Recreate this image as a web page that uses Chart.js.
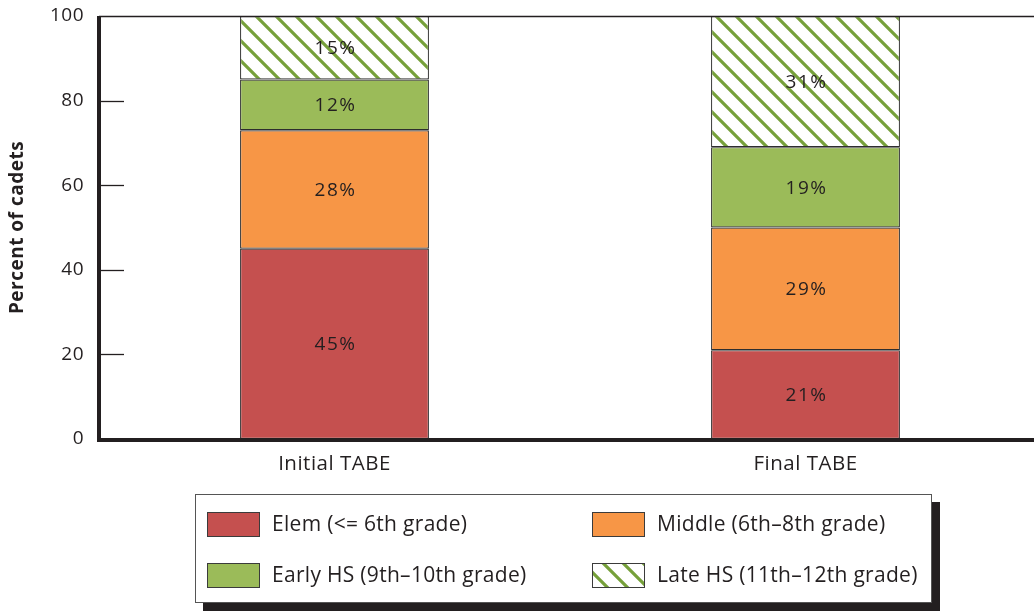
<!DOCTYPE html>
<html>
<head>
<meta charset="utf-8">
<script src="https://cdn.jsdelivr.net/npm/chart.js@4/dist/chart.umd.min.js"></script>
<style>
  html, body { margin: 0; padding: 0; background: #fff; overflow: hidden; }
  #wrap { width: 1041px; height: 611px; position: relative; }
</style>
</head>
<body>
<div id="wrap"><canvas id="c"></canvas></div>
<script>
// Categories and series (percent of cadets in each reading level)
const categories = ['Initial TABE', 'Final TABE'];
const seriesNames = ['Elem (<= 6th grade)', 'Middle (6th\u20138th grade)', 'Early HS (9th\u201310th grade)', 'Late HS (11th\u201312th grade)'];
const elemValues = [45, 21];
const middleValues = [28, 29];
const earlyHsValues = [12, 19];
const lateHsValues = [15, 31];
const yTicks = [0, 20, 40, 60, 80, 100];
const yTitle = 'Percent of cadets';

const INK = '#231f20';
const FONT = "'Open Sans', 'Noto Sans', sans-serif";

// Diagonal green hatch used for the Late HS segments
function makeHatch() {
  const s = 20;
  const c = document.createElement('canvas');
  c.width = s; c.height = s;
  const g = c.getContext('2d');
  g.fillStyle = '#ffffff';
  g.fillRect(0, 0, s, s);
  g.strokeStyle = '#76a03a';
  g.lineWidth = 3.2;
  g.lineCap = 'square';
  for (let k = -1; k <= 1; k++) {
    g.beginPath();
    g.moveTo(k * s - 2, -2);
    g.lineTo(k * s + s + 2, s + 2);
    g.stroke();
  }
  return g.createPattern(c, 'repeat');
}
const hatch = makeHatch();

const fills = ['#c5504f', '#f79646', '#9bbb59', hatch];
const seriesData = [elemValues, middleValues, earlyHsValues, lateHsValues];

const datasets = seriesData.map((vals, i) => ({
  label: seriesNames[i],
  data: vals,
  backgroundColor: fills[i],
  borderColor: '#2e2e2e',
  borderWidth: 1.2,
  borderSkipped: false,
  barPercentage: 0.401,
  categoryPercentage: 1.0
}));

// Slightly open letter spacing for all chart text
const spacing = {
  id: 'spacing',
  beforeLayout(chart) { chart.ctx.letterSpacing = '0.5px'; },
  beforeDraw(chart) { chart.ctx.letterSpacing = '0.5px'; }
};

// Value labels centred in each segment
const valueLabels = {
  id: 'valueLabels',
  afterDatasetsDraw(chart) {
    const ctx = chart.ctx;
    ctx.save();
    ctx.font = '19px ' + FONT;
    ctx.letterSpacing = '1.5px';
    ctx.fillStyle = INK;
    ctx.textAlign = 'center';
    ctx.textBaseline = 'middle';
    chart.data.datasets.forEach((ds, di) => {
      const meta = chart.getDatasetMeta(di);
      meta.data.forEach((el, i) => {
        const y = (el.y + el.base) / 2;
        ctx.fillText(ds.data[i] + '%', el.x + 1, y + 1);
      });
    });
    ctx.restore();
  }
};

// Axis lines, inner tick marks and the top rule
const axesFrame = {
  id: 'axesFrame',
  afterDatasetsDraw(chart) {
    const ctx = chart.ctx;
    const a = chart.chartArea;
    const ys = chart.scales.y;
    ctx.save();
    ctx.strokeStyle = INK;
    // top rule
    ctx.lineWidth = 1.3;
    ctx.beginPath();
    ctx.moveTo(a.left, ys.getPixelForValue(100) + 0.5);
    ctx.lineTo(chart.width, ys.getPixelForValue(100) + 0.5);
    ctx.stroke();
    // inner tick marks
    yTicks.forEach(v => {
      if (v === 0 || v === 100) return;
      const py = Math.round(ys.getPixelForValue(v)) + 0.5;
      ctx.beginPath();
      ctx.moveTo(a.left, py);
      ctx.lineTo(a.left + 25, py);
      ctx.stroke();
    });
    // heavy left and bottom axes
    ctx.lineWidth = 4;
    ctx.beginPath();
    ctx.moveTo(a.left, ys.getPixelForValue(100));
    ctx.lineTo(a.left, a.bottom + 3);
    ctx.stroke();
    ctx.beginPath();
    ctx.moveTo(a.left - 2, a.bottom + 1);
    ctx.lineTo(chart.width, a.bottom + 1);
    ctx.stroke();
    ctx.restore();
  }
};

// Boxed legend with a drop shadow, two columns
const boxLegend = {
  id: 'boxLegend',
  afterDraw(chart) {
    const ctx = chart.ctx;
    const bx = 195, by = 494, bw = 737, bh = 109;
    ctx.save();
    ctx.fillStyle = INK;
    ctx.fillRect(bx + 8, by + 8, bw, bh);
    ctx.fillStyle = '#ffffff';
    ctx.fillRect(bx, by, bw, bh);
    ctx.strokeStyle = '#555555';
    ctx.lineWidth = 1;
    ctx.strokeRect(bx + 0.5, by + 0.5, bw - 1, bh - 1);

    const cols = [207, 592];
    const rows = [512, 563];
    ctx.font = '21px ' + FONT;
    ctx.letterSpacing = '0.3px';
    ctx.textAlign = 'left';
    ctx.textBaseline = 'middle';
    chart.data.datasets.forEach((ds, i) => {
      const sx = cols[i % 2];
      const sy = rows[Math.floor(i / 2)];
      ctx.fillStyle = ds.backgroundColor;
      ctx.fillRect(sx, sy, 53, 25);
      ctx.strokeStyle = '#3b3b3b';
      ctx.lineWidth = 1;
      ctx.strokeRect(sx + 0.5, sy + 0.5, 52, 24);
      ctx.fillStyle = INK;
      ctx.fillText(ds.label, sx + 65, sy + 13);
    });
    ctx.restore();
  }
};

new Chart(document.getElementById('c'), {
  type: 'bar',
  data: { labels: categories, datasets },
  plugins: [spacing, valueLabels, axesFrame, boxLegend],
  options: {
    responsive: true,
    maintainAspectRatio: false,
    animation: false,
    layout: { padding: { top: 16, left: 0, right: 0, bottom: 0 } },
    plugins: { legend: { display: false }, tooltip: { enabled: false } },
    scales: {
      x: {
        stacked: true,
        grid: { display: false, drawTicks: false },
        border: { display: false },
        ticks: { color: INK, font: { family: FONT, size: 20.5 }, padding: 13 },
        afterFit(scale) {
          scale.height = 172;
          scale.paddingLeft = 0;
          scale.paddingRight = 0;
        }
      },
      y: {
        stacked: true,
        min: 0,
        max: 100,
        grid: { display: false, drawTicks: false },
        border: { display: false },
        afterBuildTicks(scale) { scale.ticks = yTicks.map(v => ({ value: v })); },
        ticks: { color: INK, font: { family: FONT, size: 19 }, padding: 15 },
        title: {
          display: true,
          text: yTitle,
          color: INK,
          font: { family: FONT, size: 19, weight: 'bold' },
          padding: { top: 6, bottom: 0 }
        },
        afterFit(scale) {
          scale.width = 99;
          scale.paddingTop = 0;
          scale.paddingBottom = 0;
        }
      }
    }
  }
});
</script>
</body>
</html>
